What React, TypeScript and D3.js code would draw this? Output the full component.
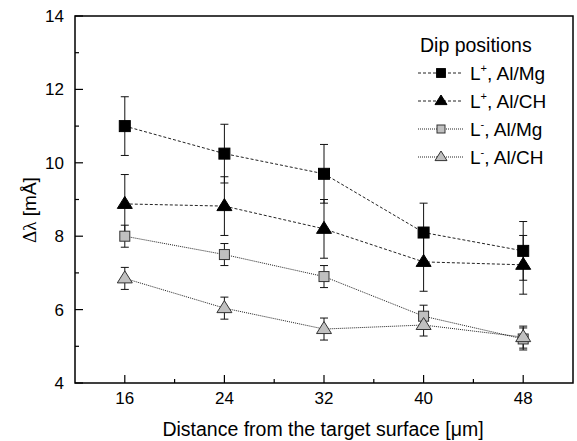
import React from "react";
import * as d3 from "d3";

const distances = [16, 24, 32, 40, 48];
const lPlusMg = [11.0, 10.25, 9.7, 8.1, 7.6];
const lPlusMgErr = [0.8, 0.8, 0.8, 0.8, 0.8];
const lPlusCh = [8.88, 8.82, 8.2, 7.3, 7.22];
const lPlusChErr = [0.8, 0.8, 0.8, 0.8, 0.8];
const lMinusMg = [8.0, 7.5, 6.9, 5.82, 5.2];
const lMinusMgErr = [0.3, 0.3, 0.3, 0.3, 0.3];
const lMinusCh = [6.85, 6.04, 5.47, 5.58, 5.25];
const lMinusChErr = [0.3, 0.3, 0.3, 0.3, 0.3];
const xTicks = [16, 24, 32, 40, 48];
const xMinor = [20, 28, 36, 44];
const yTicks = [4, 6, 8, 10, 12, 14];
const yMinor = [5, 7, 9, 11, 13];

type Series = {
  sup: string;
  name: string;
  values: number[];
  errs: number[];
  shape: "square" | "triangle";
  fill: string;
  stroke: string;
  dash: string;
};

const series: Series[] = [
  { sup: "+", name: "Al/Mg", values: lPlusMg, errs: lPlusMgErr, shape: "square", fill: "#000", stroke: "#000", dash: "3,2" },
  { sup: "+", name: "Al/CH", values: lPlusCh, errs: lPlusChErr, shape: "triangle", fill: "#000", stroke: "#000", dash: "3,2" },
  { sup: "-", name: "Al/Mg", values: lMinusMg, errs: lMinusMgErr, shape: "square", fill: "#c0c0c0", stroke: "#333", dash: "1,1" },
  { sup: "-", name: "Al/CH", values: lMinusCh, errs: lMinusChErr, shape: "triangle", fill: "#c0c0c0", stroke: "#333", dash: "1,1" },
];

const L = 75, R = 573, T = 16, B = 383;
const x = d3.scaleLinear().domain([12, 52]).range([L, R]);
const y = d3.scaleLinear().domain([4, 14]).range([B, T]);

function Marker({ cx, cy, s, k = 1 }: { cx: number; cy: number; s: Series; k?: number }) {
  if (s.shape === "square") {
    const h = (s.fill === "#000" ? 5.5 : 5) * k;
    return <rect x={cx - h} y={cy - h} width={2 * h} height={2 * h} fill={s.fill} stroke={s.stroke} strokeWidth={1} />;
  }
  const w = 7.5 * k, up = 7.5 * k, dn = 4.5 * k;
  const pts = `${cx - w},${cy + dn} ${cx + w},${cy + dn} ${cx},${cy - up}`;
  return <polygon points={pts} fill={s.fill} stroke={s.stroke} strokeWidth={1} />;
}

export default function App() {
  const font = "'Liberation Sans', Arial, sans-serif";
  const line = d3.line<number>().x((_, i) => x(distances[i])).y((v) => y(v));
  return (
    <svg width={577} height={441} style={{ position: "absolute", left: 0, top: 0, background: "#fff" }} fontFamily={font}>
      <rect x={0} y={0} width={577} height={441} fill="#fff" />
      {/* ticks */}
      {xTicks.map((t) => (
        <g key={"xt" + t}>
          <line x1={x(t)} x2={x(t)} y1={B} y2={B - 8} stroke="#000" strokeWidth={1.2} />
          <text x={x(t)} y={404} fontSize={17} textAnchor="middle">{t}</text>
        </g>
      ))}
      {xMinor.map((t) => (
        <line key={"xm" + t} x1={x(t)} x2={x(t)} y1={B} y2={B - 4} stroke="#000" strokeWidth={1.2} />
      ))}
      {yTicks.map((t) => (
        <g key={"yt" + t}>
          <line x1={L} x2={L + 8} y1={y(t)} y2={y(t)} stroke="#000" strokeWidth={1.2} />
          <text x={64} y={y(t) + 6} fontSize={17} textAnchor="end">{t}</text>
        </g>
      ))}
      {yMinor.map((t) => (
        <line key={"ym" + t} x1={L} x2={L + 4} y1={y(t)} y2={y(t)} stroke="#000" strokeWidth={1.2} />
      ))}
      {/* lines */}
      {series.map((s, i) => (
        <path key={"l" + i} d={line(s.values) || ""} fill="none" stroke="#222" strokeWidth={1} strokeDasharray={s.dash} />
      ))}
      {/* error bars */}
      {series.map((s, i) =>
        s.values.map((v, j) => {
          const cx = x(distances[j]);
          const y1 = y(v + s.errs[j]);
          const y2 = y(v - s.errs[j]);
          return (
            <g key={`e${i}-${j}`} stroke="#111" strokeWidth={1}>
              <line x1={cx} x2={cx} y1={y1} y2={y2} />
              <line x1={cx - 4} x2={cx + 4} y1={y1} y2={y1} />
              <line x1={cx - 4} x2={cx + 4} y1={y2} y2={y2} />
            </g>
          );
        })
      )}
      {/* markers */}
      {series.map((s, i) =>
        s.values.map((v, j) => <Marker key={`m${i}-${j}`} cx={x(distances[j])} cy={y(v)} s={s} />)
      )}
      {/* frame */}
      <rect x={L} y={T} width={R - L} height={B - T} fill="none" stroke="#000" strokeWidth={1.5} />
      {/* legend */}
      <text x={420} y={52} fontSize={19.5}>Dip positions</text>
      {series.map((s, i) => {
        const ly = 73 + i * 28;
        return (
          <g key={"lg" + i}>
            <line x1={418} x2={463} y1={ly} y2={ly} stroke="#222" strokeWidth={1} strokeDasharray={s.dash} />
            <Marker cx={441} cy={ly} s={s} k={0.8} />
            <text x={470} y={ly + 7} fontSize={19}>
              L<tspan dy={-8} fontSize={11}>{s.sup}</tspan>
              <tspan dy={8}>, {s.name}</tspan>
            </text>
          </g>
        );
      })}
      {/* axis titles */}
      <text x={323} y={436} fontSize={19.5} textAnchor="middle">Distance from the target surface [μm]</text>
      <text transform="translate(36,210) rotate(-90)" fontSize={19} textAnchor="middle">
        <tspan fontFamily="'Liberation Serif', serif">Δλ</tspan> [mÅ]
      </text>
    </svg>
  );
}
